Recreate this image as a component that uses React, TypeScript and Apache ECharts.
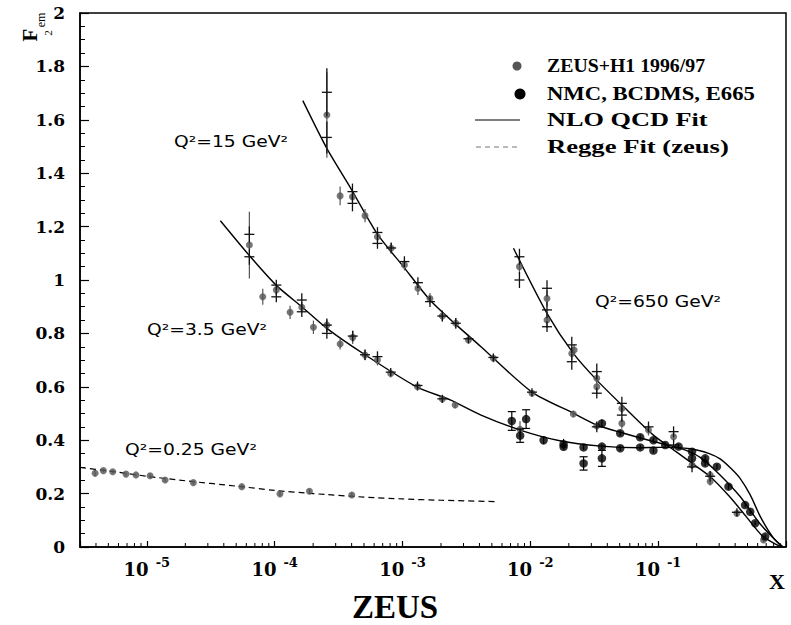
import React, { useEffect, useRef } from "react";
import * as echarts from "echarts";

// ---------- axis ticks ----------
const yTickStep = 0.2;
const xDecades = [-5, -4, -3, -2, -1];
const minorMultipliers = [2, 3, 4, 5, 6, 7, 8, 9];

// ---------- ZEUS+H1 1996/97 (grey dots): [x, F2, err] ----------
const zeusQ2_025 = [
  [3.94e-6, 0.276, 0.012], [4.57e-6, 0.286, 0.006], [5.41e-6, 0.282, 0.006],
  [6.87e-6, 0.273, 0.006], [8.22e-6, 0.270, 0.006], [1.06e-5, 0.267, 0.007],
  [1.39e-5, 0.251, 0.007], [2.31e-5, 0.241, 0.008], [5.53e-5, 0.226, 0.008],
  [1.10e-4, 0.199, 0.008], [1.87e-4, 0.209, 0.008], [4.01e-4, 0.195, 0.008],
];
const zeusQ2_35 = [
  [6.34e-5, 1.131, 0.125], [8.07e-5, 0.937, 0.03], [1.03e-4, 0.963, 0.02],
  [1.32e-4, 0.879, 0.025], [1.63e-4, 0.898, 0.02], [2.01e-4, 0.823, 0.025],
  [2.56e-4, 0.831, 0.02], [3.25e-4, 0.760, 0.02], [4.08e-4, 0.785, 0.025],
  [5.09e-4, 0.719, 0.02], [6.37e-4, 0.700, 0.02], [8.09e-4, 0.650, 0.015],
  [1.31e-3, 0.600, 0.015], [2.05e-3, 0.554, 0.015], [2.58e-3, 0.532, 0.012],
  [8.3e-3, 0.441, 0.03],
];
const zeusQ2_15 = [
  [2.56e-4, 1.618, 0.16], [3.25e-4, 1.315, 0.035], [4.06e-4, 1.312, 0.02],
  [5.09e-4, 1.241, 0.025], [6.37e-4, 1.162, 0.02], [8.15e-4, 1.119, 0.02],
  [1.035e-3, 1.056, 0.02], [1.32e-3, 0.969, 0.025], [1.64e-3, 0.931, 0.02],
  [2.05e-3, 0.865, 0.02], [2.61e-3, 0.838, 0.02], [3.28e-3, 0.775, 0.015],
  [5.14e-3, 0.707, 0.015], [1.03e-2, 0.576, 0.012], [2.17e-2, 0.498, 0.012],
  [3.31e-2, 0.453, 0.012], [0.132, 0.413, 0.02],
];
const zeusQ2_650 = [
  [8.22e-3, 1.05, 0.03], [1.35e-2, 0.931, 0.03], [1.35e-2, 0.850, 0.03],
  [2.11e-2, 0.725, 0.025], [2.2e-2, 0.738, 0.02], [3.31e-2, 0.632, 0.025],
  [3.31e-2, 0.600, 0.025], [5.2e-2, 0.519, 0.02], [5.2e-2, 0.463, 0.02],
  [8.4e-2, 0.438, 0.02], [0.184, 0.307, 0.015], [0.255, 0.270, 0.015],
  [0.255, 0.245, 0.015], [0.413, 0.126, 0.012], [0.667, 0.026, 0.008],
];

// ---------- crosses (H1 points): [x, F2, err] ----------
const crossQ2_35 = [
  [6.34e-5, 1.171, 0.03], [6.34e-5, 1.087, 0.03], [1.03e-4, 0.981, 0.02],
  [1.03e-4, 0.937, 0.02], [1.63e-4, 0.925, 0.025], [1.63e-4, 0.881, 0.02],
  [2.56e-4, 0.831, 0.025], [2.56e-4, 0.80, 0.02], [4.08e-4, 0.79, 0.02],
  [5.09e-4, 0.72, 0.02], [6.37e-4, 0.713, 0.02], [8.09e-4, 0.655, 0.015],
  [1.31e-3, 0.605, 0.015], [2.05e-3, 0.555, 0.015],
];
const crossQ2_15 = [
  [2.56e-4, 1.703, 0.09], [2.56e-4, 1.534, 0.06], [4.06e-4, 1.331, 0.03],
  [4.06e-4, 1.287, 0.03], [6.37e-4, 1.178, 0.02], [6.37e-4, 1.137, 0.02],
  [8.15e-4, 1.12, 0.02], [1.035e-3, 1.069, 0.02], [1.32e-3, 0.99, 0.02],
  [1.64e-3, 0.919, 0.02], [2.05e-3, 0.865, 0.02], [2.61e-3, 0.838, 0.02],
  [3.28e-3, 0.78, 0.015], [5.14e-3, 0.71, 0.015], [1.03e-2, 0.58, 0.015],
  [3.31e-2, 0.45, 0.02], [0.132, 0.432, 0.02], [0.132, 0.382, 0.02],
];
const crossQ2_650 = [
  [8.22e-3, 1.087, 0.03], [8.22e-3, 1.0, 0.03], [1.35e-2, 0.969, 0.03],
  [1.35e-2, 0.888, 0.03], [1.35e-2, 0.825, 0.02], [2.11e-2, 0.757, 0.03],
  [2.11e-2, 0.694, 0.03], [3.31e-2, 0.657, 0.03], [3.31e-2, 0.576, 0.02],
  [5.2e-2, 0.538, 0.025], [5.2e-2, 0.494, 0.025], [8.4e-2, 0.45, 0.02],
  [0.184, 0.30, 0.02], [0.255, 0.265, 0.02], [0.413, 0.13, 0.015],
];

// ---------- NMC, BCDMS, E665 (black dots): [x, F2, err] ----------
const fixedTarget = [
  [7.16e-3, 0.472, 0.035], [9.27e-3, 0.479, 0.035], [8.32e-3, 0.417, 0.025],
  [1.27e-2, 0.40, 0.015], [1.82e-2, 0.385, 0.02], [1.82e-2, 0.375, 0.01],
  [2.61e-2, 0.373, 0.01], [2.61e-2, 0.313, 0.025], [3.63e-2, 0.376, 0.01],
  [3.63e-2, 0.332, 0.03], [3.63e-2, 0.463, 0.015], [5.05e-2, 0.426, 0.01],
  [5.05e-2, 0.37, 0.01], [7.23e-2, 0.411, 0.01], [7.23e-2, 0.373, 0.01],
  [9.18e-2, 0.40, 0.01], [9.18e-2, 0.361, 0.01], [0.1135, 0.382, 0.01],
  [0.1445, 0.376, 0.01], [0.184, 0.357, 0.01], [0.184, 0.332, 0.01],
  [0.233, 0.332, 0.01], [0.233, 0.313, 0.01], [0.288, 0.301, 0.01],
  [0.355, 0.226, 0.01], [0.479, 0.157, 0.008], [0.525, 0.132, 0.008],
  [0.574, 0.089, 0.008], [0.687, 0.039, 0.008],
];

// ---------- fits ----------
const qcdQ2_35 = [
  [3.76e-5, 1.222], [6.46e-5, 1.087], [1.04e-4, 0.978], [1.63e-4, 0.900],
  [2.56e-4, 0.819], [5.13e-4, 0.719], [1.29e-3, 0.600], [2.36e-3, 0.551],
  [4.07e-3, 0.495], [8.32e-3, 0.438], [0.017, 0.398], [0.0355, 0.378],
  [0.0724, 0.372], [0.105, 0.373], [0.178, 0.368], [0.251, 0.350],
  [0.305, 0.330], [0.37, 0.295], [0.436, 0.258], [0.525, 0.195],
  [0.631, 0.113], [0.794, 0.035], [0.933, 0.003],
];
const qcdQ2_15 = [
  [1.66e-4, 1.672], [2.56e-4, 1.493], [4.01e-4, 1.337], [6.30e-4, 1.175],
  [1.016e-3, 1.050], [1.64e-3, 0.925], [2.66e-3, 0.830], [4.07e-3, 0.752],
  [1.03e-2, 0.580], [2.17e-2, 0.501], [3.31e-2, 0.457], [5.37e-2, 0.426],
  [9.18e-2, 0.395], [0.148, 0.370], [0.214, 0.335], [0.302, 0.272],
  [0.436, 0.19], [0.631, 0.085], [0.891, 0.01], [0.933, 0.003],
];
const qcdQ2_650 = [
  [7.38e-3, 1.119], [1.35e-2, 0.875], [2.17e-2, 0.725], [3.31e-2, 0.625],
  [5.37e-2, 0.525], [9.12e-2, 0.42], [0.138, 0.357], [0.195, 0.305],
  [0.257, 0.262], [0.363, 0.188], [0.49, 0.113], [0.661, 0.039],
  [0.851, 0.008], [0.933, 0.002],
];
const reggeQ2_025 = [
  [3e-6, 0.298], [5e-6, 0.285], [1e-5, 0.265], [2e-5, 0.248], [5e-5, 0.228],
  [1e-4, 0.212], [2e-4, 0.200], [5e-4, 0.187], [1e-3, 0.180], [2e-3, 0.175],
  [5.5e-3, 0.170],
];

const X_MIN = 3e-6;
const X_MAX = 1;
const GREY = "#555555";
const SERIF = "'Liberation Serif', 'Times New Roman', serif";
const DSERIF = "'DejaVu Serif', serif";
const SANS = "'DejaVu Sans', sans-serif";

const minorTickValues: number[][] = [];
xDecades.concat([-6]).forEach((d) => {
  minorMultipliers.forEach((m) => {
    const v = m * Math.pow(10, d);
    if (v > X_MIN && v < X_MAX) minorTickValues.push([v, 0]);
  });
});

function errBarRender(color: string, capHalf: number, capMin: number) {
  return (params: any, api: any) => {
    const x = api.value(0);
    const y = api.value(1);
    const e = api.value(2);
    const hi = api.coord([x, y + e]);
    const lo = api.coord([x, y - e]);
    const children: any[] = [
      { type: "line", shape: { x1: hi[0], y1: hi[1], x2: lo[0], y2: lo[1] }, style: { stroke: color, lineWidth: 1.2 } },
    ];
    if (capHalf > 0 && e >= capMin) {
      children.push({ type: "line", shape: { x1: hi[0] - capHalf, y1: hi[1], x2: hi[0] + capHalf, y2: hi[1] }, style: { stroke: color, lineWidth: 1.2 } });
      children.push({ type: "line", shape: { x1: lo[0] - capHalf, y1: lo[1], x2: lo[0] + capHalf, y2: lo[1] }, style: { stroke: color, lineWidth: 1.2 } });
    }
    return { type: "group", children };
  };
}

function crossRender(params: any, api: any) {
  const x = api.value(0);
  const y = api.value(1);
  const e = api.value(2);
  const c = api.coord([x, y]);
  const hi = api.coord([x, y + e]);
  const lo = api.coord([x, y - e]);
  return {
    type: "group",
    children: [
      { type: "line", shape: { x1: hi[0], y1: hi[1], x2: lo[0], y2: lo[1] }, style: { stroke: "#111", lineWidth: 1.3 } },
      { type: "line", shape: { x1: c[0] - 5, y1: c[1], x2: c[0] + 5, y2: c[1] }, style: { stroke: "#111", lineWidth: 1.3 } },
    ],
  };
}

function minorTickRender(params: any, api: any) {
  const p = api.coord([api.value(0), 0]);
  return { type: "line", shape: { x1: p[0], y1: p[1], x2: p[0], y2: p[1] - 4 }, style: { stroke: "#000", lineWidth: 1 } };
}

const zeusAll = [...zeusQ2_025, ...zeusQ2_35, ...zeusQ2_15, ...zeusQ2_650];
const crossAll = [...crossQ2_35, ...crossQ2_15, ...crossQ2_650];

const legendRows = [
  { text: "ZEUS+H1 1996/97", y: 66, scale: 1.1 },
  { text: "NMC, BCDMS, E665", y: 94, scale: 1.26 },
  { text: "NLO QCD Fit", y: 120, scale: 1.46 },
  { text: "Regge Fit (zeus)", y: 147, scale: 1.48 },
];

const q2Labels = [
  { text: "Q²=15 GeV²", x: 231, y: 141 },
  { text: "Q²=3.5 GeV²", x: 207, y: 329 },
  { text: "Q²=0.25 GeV²", x: 191, y: 449 },
  { text: "Q²=650 GeV²", x: 658, y: 301 },
];

export default function App() {
  const ref = useRef<HTMLDivElement>(null);
  useEffect(() => {
    document.body.style.margin = "0";
    const chart = echarts.init(ref.current!, null, { renderer: "svg" });
    const fitLine = (name: string, data: number[][]) => ({
      name,
      type: "line",
      data,
      symbol: "none",
      smooth: 0.25,
      lineStyle: { color: "#000", width: 1.4 },
      z: 2,
      silent: true,
    });
    const option: any = {
      animation: false,
      backgroundColor: "#fff",
      grid: { left: 80, top: 13, width: 706, height: 534, show: true, borderColor: "#000", borderWidth: 1.5, backgroundColor: "transparent" },
      xAxis: {
        type: "log",
        logBase: 10,
        min: X_MIN,
        max: X_MAX,
        axisLine: { lineStyle: { color: "#000", width: 1.5 } },
        axisTick: { inside: true, length: 6, lineStyle: { color: "#000", width: 1.2 } },
        splitLine: { show: false },
        axisLabel: {
          margin: 9,
          formatter: (v: number) => {
            const l = Math.log10(v);
            const r = Math.round(l);
            if (Math.abs(l - r) > 1e-6 || r > -1 || r < -5) return "";
            return `{b|10}{s|${r}}`;
          },
          rich: {
            b: { fontFamily: DSERIF, fontWeight: "bold", fontSize: 18, lineHeight: 18, padding: [9, 0, 0, 0], color: "#000" },
            s: { fontFamily: DSERIF, fontWeight: "bold", fontSize: 13, lineHeight: 13, verticalAlign: "top", padding: [0, 0, 0, 7], color: "#000" },
          },
        },
      },
      yAxis: {
        type: "value",
        min: 0,
        max: 2,
        interval: yTickStep,
        axisLine: { show: true, lineStyle: { color: "#000", width: 1.5 } },
        axisTick: { show: true, inside: true, length: 9, lineStyle: { color: "#000", width: 1.2 } },
        minorTick: { show: true, splitNumber: 4, length: 5, lineStyle: { color: "#000", width: 1 } },
        splitLine: { show: false },
        axisLabel: { margin: 15, fontFamily: DSERIF, fontWeight: "bold", fontSize: 17, color: "#000" },
      },
      series: [
        fitLine("NLO QCD Fit", qcdQ2_35),
        fitLine("NLO QCD Fit", qcdQ2_15),
        fitLine("NLO QCD Fit", qcdQ2_650),
        {
          name: "Regge Fit (zeus)",
          type: "line",
          data: reggeQ2_025,
          symbol: "none",
          smooth: 0.25,
          lineStyle: { color: "#000", width: 1.2, type: [6, 4] },
          z: 2,
          silent: true,
        },
        { type: "custom", renderItem: errBarRender(GREY, 0, 1), data: zeusAll, encode: { x: 0, y: 1 }, z: 3, silent: true },
        {
          name: "ZEUS+H1 1996/97",
          type: "scatter",
          data: zeusAll.map((d) => [d[0], d[1]]),
          symbol: "circle",
          symbolSize: 7,
          itemStyle: { color: GREY },
          z: 4,
          silent: true,
        },
        { type: "custom", renderItem: crossRender, data: crossAll, encode: { x: 0, y: 1 }, z: 5, silent: true },
        { type: "custom", renderItem: errBarRender("#000", 4, 0.025), data: fixedTarget, encode: { x: 0, y: 1 }, z: 5, silent: true },
        {
          name: "NMC, BCDMS, E665",
          type: "scatter",
          data: fixedTarget.map((d) => [d[0], d[1]]),
          symbol: "circle",
          symbolSize: 8.5,
          itemStyle: { color: "#000" },
          z: 6,
          silent: true,
        },
        { type: "custom", renderItem: minorTickRender, data: minorTickValues, encode: { x: 0, y: 1 }, z: 7, silent: true, clip: false },
      ],
      graphic: [
        // legend
        { type: "circle", shape: { cx: 517, cy: legendRows[0].y, r: 4.5 }, style: { fill: GREY } },
        { type: "circle", shape: { cx: 520, cy: legendRows[1].y, r: 5.5 }, style: { fill: "#000" } },
        { type: "line", shape: { x1: 475, y1: legendRows[2].y, x2: 520, y2: legendRows[2].y }, style: { stroke: "#000", lineWidth: 1.2 } },
        { type: "line", shape: { x1: 476, y1: legendRows[3].y, x2: 520, y2: legendRows[3].y }, style: { stroke: "#777", lineWidth: 1, lineDash: [5, 4] } },
        ...legendRows.map((r) => ({
          type: "text",
          x: 547,
          y: r.y,
          scaleX: r.scale,
          style: { text: r.text, fontFamily: SERIF, fontWeight: "bold", fontSize: 18, fill: "#000", verticalAlign: "middle", align: "left" },
        })),
        // Q2 labels
        ...q2Labels.map((l) => ({
          type: "text",
          x: l.x,
          y: l.y,
          scaleX: 1.17,
          style: { text: l.text, fontFamily: SANS, fontSize: 16, fill: "#000", verticalAlign: "middle", align: "center" },
        })),
        // axis titles
        { type: "text", x: 777, y: 581, style: { text: "X", fontFamily: SERIF, fontWeight: "bold", fontSize: 22, fill: "#000", align: "center", verticalAlign: "middle" } },
        { type: "text", x: 395, y: 607, style: { text: "ZEUS", fontFamily: SERIF, fontWeight: "bold", fontSize: 33, fill: "#000", align: "center", verticalAlign: "middle" } },
        { type: "text", x: 30, y: 35, rotation: Math.PI / 2, style: { text: "F", fontFamily: SERIF, fontWeight: "bold", fontSize: 21, fill: "#000", align: "center", verticalAlign: "middle" } },
        { type: "text", x: 41, y: 20, rotation: Math.PI / 2, style: { text: "em", fontFamily: SERIF, fontSize: 12, fill: "#000", align: "center", verticalAlign: "middle" } },
        { type: "text", x: 48, y: 33, rotation: Math.PI / 2, style: { text: "2", fontFamily: SERIF, fontSize: 11, fill: "#000", align: "center", verticalAlign: "middle" } },
      ],
    };
    chart.setOption(option);
    return () => chart.dispose();
  }, []);
  return <div ref={ref} style={{ width: 791, height: 625 }} />;
}
